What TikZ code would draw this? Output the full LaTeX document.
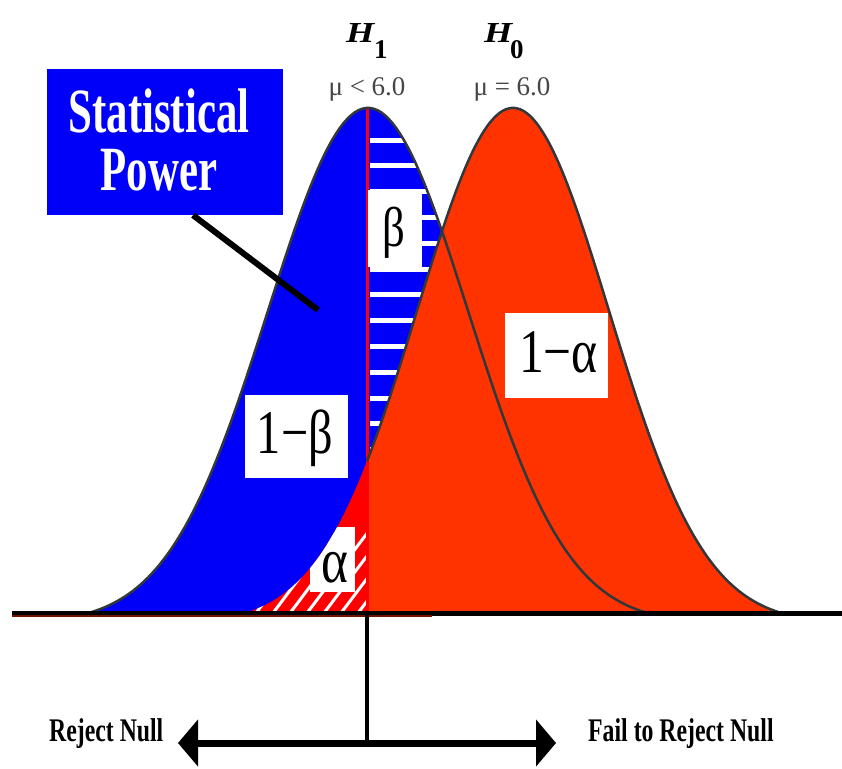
\documentclass[tikz,border=0pt]{standalone}
\usepackage{fontspec}
\setmainfont{Liberation Serif}
\usetikzlibrary{arrows.meta}
\definecolor{pblue}{RGB}{0,0,250}
\definecolor{pred}{RGB}{255,51,0}
\definecolor{hred}{RGB}{255,0,0}
\definecolor{curvegray}{RGB}{50,55,60}
\definecolor{labgray}{RGB}{70,70,70}
\definecolor{basered}{RGB}{110,20,0}
\begin{document}
\begin{tikzpicture}[x=1pt,y=-1pt,
  declare function={
    gone(\x)=613-505*(exp(-0.5*((\x-368)/100)*((\x-368)/100))-0.02)/0.98;
    gzero(\x)=613-505*(exp(-0.5*((\x-513)/96)*((\x-513)/96))-0.02)/0.98;
  },
  curve/.style={draw=curvegray, line width=2.5pt},
  greek/.style={font=\fontsize{62}{62}\selectfont, inner sep=0pt, anchor=base},
  whitebox/.style={fill=white, inner sep=0pt},
  hyp/.style={font=\fontsize{29}{29}\selectfont\bfseries\itshape, inner sep=0pt, anchor=base west},
  hypsub/.style={font=\fontsize{27}{27}\selectfont\bfseries, inner sep=0pt, anchor=base west},
  mulab/.style={font=\fontsize{27}{27}\selectfont, text=labgray, inner sep=0pt, anchor=base},
  decision/.style={font=\fontsize{33}{33}\selectfont\bfseries, inner sep=0pt, anchor=base west},
  powertext/.style={font=\fontsize{63}{58}\selectfont\bfseries, text=white, inner sep=0pt, align=center}
]
\useasboundingbox (0,0) rectangle (842,768);

% H1 full area (blue)
\fill[pblue] plot[domain=88:648,samples=150] (\x,{gone(\x)}) -- cycle;

% beta stripes
\begin{scope}
  \clip plot[domain=367:648,samples=100] (\x,{gone(\x)}) -- (367,613) -- cycle;
  \foreach \k in {0,...,14}
    \draw[white,line width=5pt] (370,{140+25.8*\k}) -- (660,{140+25.8*\k});
\end{scope}

% H0 right of cut (red)
\fill[pred] plot[domain=367:781.5,samples=150] (\x,{gzero(\x)}) -- (367,613) -- cycle;

% alpha region
\begin{scope}
  \clip plot[domain=244.5:367,samples=80] (\x,{gzero(\x)}) -- (367,613) -- cycle;
  \fill[hred] (240,400) rectangle (370,620);
  \foreach \k in {0,...,12}
    \draw[white,line width=3pt] ({230+17*\k},625) -- ++(70,-93);
  \fill[white] (310,527) rectangle (355,592);
\end{scope}

% cut line
\coordinate (peak1) at (367,{gone(367)});
\coordinate (cutbase) at (367,613);
\draw[hred,line width=3pt] (peak1) -- (cutbase);

% outlines
\draw[curve] plot[domain=88:648,samples=150] (\x,{gone(\x)});
\draw[curve] plot[domain=367:781.5,samples=150] (\x,{gzero(\x)});

% baseline
\coordinate (bl) at (12,613);
\coordinate (br) at (842,613);
\draw[line width=5pt] (bl) -- (br);
\coordinate (rl) at (12,615.5);
\coordinate (rr) at (432,615.5);
\draw[basered,line width=2pt] (rl) -- (rr);

% decision line and arrow
\coordinate (vbot) at (367,743);
\draw[line width=4pt] (cutbase) -- (vbot);
\coordinate (al) at (178,743);
\coordinate (ar) at (556,743);
\draw[line width=7pt,{Triangle[length=20pt,width=46pt]}-{Triangle[length=20pt,width=46pt]}] (al) -- (ar);

\node[decision] (rej) at (49,741) {\scalebox{0.72}[1]{Reject Null}};
\node[decision] (fail) at (588,741) {\scalebox{0.72}[1]{Fail to Reject Null}};

% label boxes
\node[whitebox,minimum width=103pt,minimum height=83pt] (ombbox) at (296.5,436.5) {};
\node[greek] (omb) at (295,453) {\scalebox{0.78}[1]{1−β}};
\node[whitebox,minimum width=103pt,minimum height=85pt] (omabox) at (556.5,355.5) {};
\node[greek] (oma) at (558.5,372) {\scalebox{0.8}[1]{1−α}};
\node[whitebox,minimum width=54pt,minimum height=77pt] (bbox) at (395,228.5) {};
\node[greek,font=\fontsize{56}{56}\selectfont] (beta) at (394,246) {\scalebox{0.8}[1]{β}};
\node[greek,font=\fontsize{64}{64}\selectfont] (alpha) at (335,582) {\scalebox{0.8}[1]{α}};

% Statistical power box
\node[fill=pblue,inner sep=0pt,minimum width=236pt,minimum height=146pt] (spbox) at (165,142) {};
\node[powertext] (sp) at (159,140) {\scalebox{0.68}[1]{Statistical}\\\scalebox{0.68}[1]{Power}};
\coordinate (ptr) at (318,310);
\draw[line width=6pt] ([xshift=28pt]spbox.south) -- (ptr);

% hypotheses
\node[hyp] (h1) at (346,42) {\scalebox{1.25}[1]{H}};
\node[hypsub] (h1s) at (374,59) {1};
\node[hyp] (h0) at (484,42) {\scalebox{1.25}[1]{H}};
\node[hypsub] (h0s) at (510,59) {0};
\node[mulab] (mu1) at (367,95) {μ < 6.0};
\node[mulab] (mu0) at (512,95) {μ = 6.0};
\end{tikzpicture}
\end{document}
